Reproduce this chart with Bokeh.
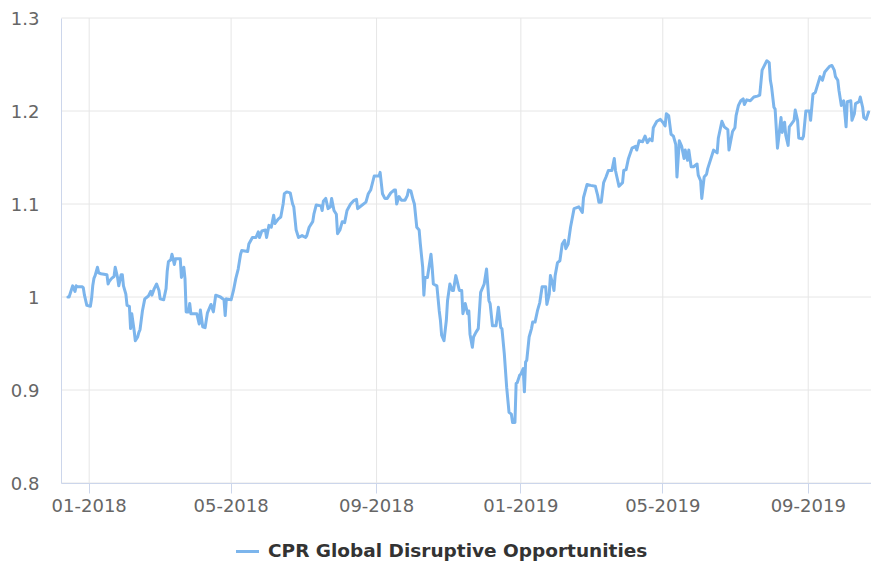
import pandas as pd
from bokeh.plotting import figure
from bokeh.models import (Range1d, FixedTicker, DatetimeTickFormatter, CustomJSTickFormatter,
                          Legend, LegendItem, ColumnDataSource)
from bokeh.embed import file_html
from bokeh.resources import INLINE

# ---------------- data ----------------
series_name = "CPR Global Disruptive Opportunities"

dates = [
    "2017-12-14", "2017-12-15", "2017-12-18", "2017-12-20", "2017-12-21", "2017-12-22", "2017-12-26",
    "2017-12-27", "2017-12-28", "2017-12-30", "2018-01-02", "2018-01-03", "2018-01-04", "2018-01-05",
    "2018-01-06", "2018-01-08", "2018-01-09", "2018-01-11", "2018-01-16", "2018-01-17", "2018-01-18",
    "2018-01-20", "2018-01-22", "2018-01-23", "2018-01-25", "2018-01-26", "2018-01-28", "2018-01-29",
    "2018-01-30", "2018-02-01", "2018-02-02", "2018-02-04", "2018-02-05", "2018-02-06", "2018-02-08",
    "2018-02-09", "2018-02-11", "2018-02-12", "2018-02-13", "2018-02-15", "2018-02-17", "2018-02-19",
    "2018-02-20", "2018-02-22", "2018-02-23", "2018-02-25", "2018-02-27", "2018-03-01", "2018-03-02",
    "2018-03-05", "2018-03-07", "2018-03-08", "2018-03-09", "2018-03-11", "2018-03-12", "2018-03-14",
    "2018-03-15", "2018-03-19", "2018-03-20", "2018-03-22", "2018-03-23", "2018-03-24", "2018-03-26",
    "2018-03-27", "2018-03-28", "2018-04-02", "2018-04-04", "2018-04-05", "2018-04-07", "2018-04-09",
    "2018-04-11", "2018-04-14", "2018-04-16", "2018-04-18", "2018-04-22", "2018-04-25", "2018-04-26",
    "2018-04-27", "2018-05-01", "2018-05-03", "2018-05-05", "2018-05-07", "2018-05-09", "2018-05-10",
    "2018-05-15", "2018-05-16", "2018-05-19", "2018-05-22", "2018-05-24", "2018-05-25", "2018-05-27",
    "2018-05-30", "2018-05-31", "2018-06-02", "2018-06-04", "2018-06-06", "2018-06-07", "2018-06-10",
    "2018-06-12", "2018-06-14", "2018-06-15", "2018-06-17", "2018-06-20", "2018-06-22", "2018-06-23",
    "2018-06-25", "2018-06-27", "2018-06-30", "2018-07-03", "2018-07-04", "2018-07-06", "2018-07-09",
    "2018-07-10", "2018-07-12", "2018-07-16", "2018-07-17", "2018-07-18", "2018-07-20", "2018-07-22",
    "2018-07-24", "2018-07-25", "2018-07-27", "2018-07-29", "2018-07-30", "2018-08-01", "2018-08-03",
    "2018-08-05", "2018-08-07", "2018-08-10", "2018-08-13", "2018-08-15", "2018-08-16", "2018-08-18",
    "2018-08-23", "2018-08-25", "2018-08-27", "2018-08-29", "2018-08-30", "2018-09-03", "2018-09-04",
    "2018-09-06", "2018-09-08", "2018-09-10", "2018-09-13", "2018-09-16", "2018-09-17", "2018-09-18",
    "2018-09-20", "2018-09-22", "2018-09-25", "2018-09-27", "2018-09-28", "2018-09-30", "2018-10-02",
    "2018-10-03", "2018-10-05", "2018-10-07", "2018-10-08", "2018-10-10", "2018-10-11", "2018-10-12",
    "2018-10-14", "2018-10-17", "2018-10-18", "2018-10-19", "2018-10-22", "2018-10-24", "2018-10-25",
    "2018-10-26", "2018-10-28", "2018-10-30", "2018-10-31", "2018-11-02", "2018-11-04", "2018-11-05",
    "2018-11-07", "2018-11-08", "2018-11-10", "2018-11-12", "2018-11-13", "2018-11-15", "2018-11-17",
    "2018-11-18", "2018-11-19", "2018-11-21", "2018-11-22", "2018-11-24", "2018-11-26", "2018-11-28",
    "2018-12-01", "2018-12-03", "2018-12-05", "2018-12-06", "2018-12-08", "2018-12-11", "2018-12-13",
    "2018-12-15", "2018-12-16", "2018-12-18", "2018-12-20", "2018-12-22", "2018-12-24", "2018-12-25",
    "2018-12-27", "2018-12-28", "2018-12-29", "2018-12-31", "2019-01-01", "2019-01-03", "2019-01-04",
    "2019-01-05", "2019-01-06", "2019-01-08", "2019-01-10", "2019-01-11", "2019-01-13", "2019-01-15",
    "2019-01-17", "2019-01-19", "2019-01-22", "2019-01-23", "2019-01-25", "2019-01-26", "2019-01-28",
    "2019-01-29", "2019-01-30", "2019-02-01", "2019-02-03", "2019-02-05", "2019-02-07", "2019-02-08",
    "2019-02-10", "2019-02-12", "2019-02-15", "2019-02-19", "2019-02-22", "2019-02-23", "2019-02-26",
    "2019-03-01", "2019-03-05", "2019-03-07", "2019-03-08", "2019-03-10", "2019-03-12", "2019-03-14",
    "2019-03-16", "2019-03-19", "2019-03-21", "2019-03-22", "2019-03-25", "2019-03-28", "2019-03-29",
    "2019-03-31", "2019-04-02", "2019-04-05", "2019-04-08", "2019-04-09", "2019-04-11", "2019-04-14",
    "2019-04-16", "2019-04-18", "2019-04-20", "2019-04-22", "2019-04-23", "2019-04-26", "2019-04-29",
    "2019-05-01", "2019-05-03", "2019-05-04", "2019-05-06", "2019-05-08", "2019-05-10", "2019-05-12",
    "2019-05-13", "2019-05-15", "2019-05-17", "2019-05-19", "2019-05-20", "2019-05-22", "2019-05-23",
    "2019-05-25", "2019-05-27", "2019-05-30", "2019-05-31", "2019-06-02", "2019-06-03", "2019-06-05",
    "2019-06-07", "2019-06-08", "2019-06-12", "2019-06-13", "2019-06-16", "2019-06-17", "2019-06-20",
    "2019-06-22", "2019-06-25", "2019-06-26", "2019-06-29", "2019-07-01", "2019-07-02", "2019-07-04",
    "2019-07-06", "2019-07-08", "2019-07-09", "2019-07-11", "2019-07-14", "2019-07-17", "2019-07-20",
    "2019-07-22", "2019-07-24", "2019-07-26", "2019-07-28", "2019-07-30", "2019-07-31", "2019-08-01",
    "2019-08-03", "2019-08-04", "2019-08-06", "2019-08-07", "2019-08-09", "2019-08-10", "2019-08-12",
    "2019-08-13", "2019-08-15", "2019-08-16", "2019-08-20", "2019-08-21", "2019-08-23", "2019-08-24",
    "2019-08-27", "2019-08-28", "2019-08-30", "2019-09-02", "2019-09-03", "2019-09-05", "2019-09-07",
    "2019-09-11", "2019-09-12", "2019-09-13", "2019-09-15", "2019-09-19", "2019-09-21", "2019-09-23",
    "2019-09-24", "2019-09-26", "2019-09-27", "2019-09-29", "2019-10-01", "2019-10-03", "2019-10-04",
    "2019-10-07", "2019-10-08", "2019-10-10", "2019-10-11", "2019-10-14", "2019-10-15", "2019-10-17",
    "2019-10-18", "2019-10-20", "2019-10-22",
]

values = [
    1.000, 1.000, 1.012, 1.006, 1.012, 1.011, 1.011,
    1.010, 1.002, 0.991, 0.990, 0.998, 1.012, 1.020,
    1.023, 1.032, 1.026, 1.025, 1.024, 1.014, 1.017,
    1.020, 1.022, 1.032, 1.021, 1.012, 1.024, 1.024,
    1.012, 1.003, 0.991, 0.990, 0.966, 0.982, 0.964,
    0.953, 0.957, 0.962, 0.965, 0.985, 0.998, 1.000,
    1.001, 1.006, 1.002, 1.009, 1.014, 1.007, 0.998,
    0.997, 1.009, 1.028, 1.038, 1.040, 1.046, 1.035,
    1.041, 1.041, 1.021, 1.032, 1.020, 0.984, 0.984,
    0.993, 0.982, 0.982, 0.971, 0.986, 0.968, 0.967,
    0.983, 0.992, 0.984, 1.002, 1.000, 0.997, 0.980,
    0.998, 0.997, 1.007, 1.020, 1.030, 1.046, 1.050,
    1.049, 1.057, 1.064, 1.064, 1.070, 1.064, 1.071,
    1.072, 1.064, 1.077, 1.075, 1.088, 1.079, 1.084,
    1.086, 1.100, 1.111, 1.113, 1.112, 1.100, 1.097,
    1.072, 1.064, 1.066, 1.064, 1.066, 1.075, 1.081,
    1.089, 1.099, 1.098, 1.093, 1.103, 1.106, 1.095,
    1.097, 1.106, 1.093, 1.089, 1.068, 1.072, 1.081,
    1.080, 1.093, 1.100, 1.104, 1.105, 1.095, 1.097,
    1.102, 1.111, 1.115, 1.125, 1.130, 1.130, 1.134,
    1.111, 1.106, 1.106, 1.112, 1.115, 1.115, 1.100,
    1.108, 1.104, 1.104, 1.109, 1.115, 1.114, 1.104,
    1.100, 1.075, 1.072, 1.057, 1.032, 1.002, 1.021,
    1.021, 1.046, 1.032, 1.014, 1.012, 0.985, 0.975,
    0.959, 0.953, 0.975, 0.996, 1.014, 1.007, 1.007,
    1.023, 1.018, 1.007, 1.007, 0.982, 0.993, 0.982,
    0.985, 0.960, 0.946, 0.957, 0.962, 0.966, 1.005,
    1.014, 1.030, 0.996, 0.993, 0.969, 0.969, 0.989,
    0.967, 0.966, 0.939, 0.903, 0.876, 0.874, 0.865,
    0.865, 0.907, 0.908, 0.916, 0.917, 0.923, 0.898,
    0.930, 0.932, 0.957, 0.966, 0.973, 0.973, 0.985,
    0.994, 1.011, 1.011, 0.992, 1.003, 1.023, 1.014,
    1.007, 1.023, 1.037, 1.039, 1.057, 1.061, 1.052,
    1.057, 1.075, 1.095, 1.097, 1.091, 1.107, 1.121,
    1.120, 1.119, 1.109, 1.102, 1.102, 1.123, 1.129,
    1.136, 1.136, 1.149, 1.136, 1.119, 1.123, 1.136,
    1.137, 1.149, 1.160, 1.162, 1.158, 1.168, 1.167,
    1.173, 1.166, 1.170, 1.168, 1.182, 1.189, 1.191,
    1.188, 1.184, 1.197, 1.195, 1.175, 1.173, 1.164,
    1.129, 1.168, 1.162, 1.149, 1.158, 1.147, 1.158,
    1.140, 1.140, 1.143, 1.131, 1.125, 1.106, 1.129,
    1.132, 1.138, 1.154, 1.158, 1.155, 1.171, 1.189,
    1.183, 1.180, 1.158, 1.178, 1.182, 1.195, 1.206,
    1.211, 1.213, 1.207, 1.212, 1.211, 1.215, 1.216,
    1.217, 1.244, 1.249, 1.254, 1.252, 1.233, 1.226,
    1.204, 1.202, 1.160, 1.171, 1.193, 1.177, 1.188,
    1.174, 1.163, 1.183, 1.190, 1.201, 1.190, 1.171,
    1.170, 1.173, 1.200, 1.200, 1.190, 1.218, 1.220,
    1.237, 1.235, 1.233, 1.242, 1.248, 1.249, 1.244,
    1.237, 1.233, 1.222, 1.206, 1.211, 1.183, 1.210,
    1.211, 1.190, 1.197, 1.208, 1.210, 1.215, 1.204,
    1.193, 1.191, 1.199,
]

x_tick_dates = ["2018-01-01", "2018-05-01", "2018-09-01", "2019-01-01", "2019-05-01", "2019-09-01"]
y_ticks = [0.8, 0.9, 1.0, 1.1, 1.2, 1.3]
x_start, x_end = "2017-12-08 14:00", "2019-10-24 12:00"

# ---------------- layout constants (pixels) ----------------
W, H = 871, 561
AXIS_X = 61                  # where the value axis sits
PLOT_TOP = 17.5              # where the 1.3 grid line sits
PLOT_BOTTOM = 482.5          # where the 0.8 axis line sits
PX_PER_UNIT = (PLOT_BOTTOM - PLOT_TOP) / (y_ticks[-1] - y_ticks[0])
FONT = "DejaVu Sans"
AXIS_COLOR = "#ccd6eb"
GRID_COLOR = "#e6e6e6"
LINE_COLOR = "#7cb5ec"

# The frame covers the whole picture, so that axis labels and the legend
# (drawn inside the frame) are not clipped; the axes are pinned in place.
ms_start = pd.Timestamp(x_start).value / 1e6
ms_end = pd.Timestamp(x_end).value / 1e6
ms_full_start = ms_start - (ms_end - ms_start) * AXIS_X / (W - AXIS_X)
y_lo = y_ticks[0] - (H - PLOT_BOTTOM) / PX_PER_UNIT
y_hi = y_ticks[-1] + PLOT_TOP / PX_PER_UNIT

src = ColumnDataSource(dict(date=pd.to_datetime(dates), value=values))

p = figure(width=W, height=H, x_axis_type="datetime",
           x_range=Range1d(ms_full_start, ms_end),
           y_range=Range1d(y_lo, y_hi),
           output_backend="svg", toolbar_location=None,
           min_border_left=0, min_border_right=0, min_border_top=0, min_border_bottom=0)
p.outline_line_color = None
p.background_fill_color = "white"
p.border_fill_color = "white"

# grid lines only over the value area
tick_ts = pd.to_datetime(x_tick_dates)
n_x = len(tick_ts)
p.segment(x0=tick_ts, x1=tick_ts, y0=[y_ticks[0]] * n_x, y1=[y_ticks[-1]] * n_x,
          line_color=GRID_COLOR, line_width=1, level="underlay")
n_y = len(y_ticks)
p.segment(x0=[ms_start] * n_y, x1=[ms_end] * n_y, y0=y_ticks, y1=y_ticks,
          line_color=GRID_COLOR, line_width=1, level="underlay")
p.xgrid.visible = False
p.ygrid.visible = False

r = p.line("date", "value", source=src, line_color=LINE_COLOR, line_width=3,
           line_join="round", line_cap="round")

xt = FixedTicker(ticks=[pd.Timestamp(d).value / 1e6 for d in x_tick_dates])
fmt = "%m-%Y"
p.xaxis.ticker = xt
p.xaxis.formatter = DatetimeTickFormatter(microseconds=fmt, milliseconds=fmt, seconds=fmt, minsec=fmt,
                                          minutes=fmt, hourmin=fmt, hours=fmt, days=fmt,
                                          months=fmt, years=fmt)
p.xaxis.fixed_location = y_ticks[0]
p.xaxis.bounds = (ms_start, ms_end)
p.yaxis.ticker = FixedTicker(ticks=y_ticks)
p.yaxis.fixed_location = ms_start
p.yaxis.bounds = (y_ticks[0], y_ticks[-1])
p.yaxis.formatter = CustomJSTickFormatter(code="return Number(tick.toFixed(1)).toString();")

for ax in (p.xaxis[0], p.yaxis[0]):
    ax.axis_line_color = AXIS_COLOR
    ax.axis_line_width = 1
    ax.major_label_text_font = FONT
    ax.major_label_text_font_size = "18px"
    ax.major_label_text_color = "#666666"
    ax.minor_tick_line_color = None
    ax.major_tick_in = 0

p.xaxis.major_tick_out = 10
p.xaxis.major_tick_line_color = AXIS_COLOR
p.xaxis.major_label_standoff = 6
p.yaxis.major_tick_out = 0
p.yaxis.major_tick_line_color = None
p.yaxis.major_label_standoff = 22

legend = Legend(items=[LegendItem(label=series_name, renderers=[r])],
                location=(236, 0), orientation="horizontal",
                glyph_width=23, glyph_height=20, padding=0, margin=0, spacing=0,
                label_standoff=9, border_line_color=None, background_fill_alpha=0,
                label_text_font=FONT, label_text_font_style="bold",
                label_text_font_size="18.5px", label_text_color="#333333")
p.add_layout(legend)

open("out.html", "w").write(file_html(p, INLINE))
